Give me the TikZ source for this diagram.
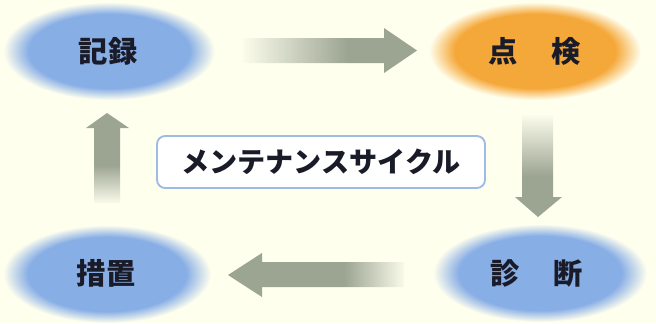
\documentclass[tikz,border=0pt]{standalone}
\usepackage{fontspec}
\newfontfamily\jp{Noto Sans CJK JP}
\definecolor{bg}{RGB}{255,255,238}
\definecolor{ellblue}{RGB}{136,174,230}
\definecolor{ellorange}{RGB}{245,168,58}
\definecolor{arrgray}{RGB}{156,165,146}
\definecolor{boxblue}{RGB}{160,186,230}
\definecolor{txt}{RGB}{25,28,40}
\pgfdeclareradialshading{blueell}{\pgfpoint{0bp}{0bp}}{color(0bp)=(ellblue); color(19bp)=(ellblue); color(25bp)=(bg); color(50bp)=(bg)}
\pgfdeclareradialshading{orangeell}{\pgfpoint{0bp}{0bp}}{color(0bp)=(ellorange); color(19bp)=(ellorange); color(25bp)=(bg); color(50bp)=(bg)}
\pgfdeclarehorizontalshading{fadeR}{100bp}{color(0bp)=(bg); color(24bp)=(bg); color(55bp)=(arrgray); color(100bp)=(arrgray)}
\pgfdeclarehorizontalshading{fadeL}{100bp}{color(0bp)=(arrgray); color(58bp)=(arrgray); color(76bp)=(bg); color(100bp)=(bg)}
\pgfdeclareverticalshading{fadeD}{100bp}{color(0bp)=(arrgray); color(45bp)=(arrgray); color(76bp)=(bg); color(100bp)=(bg)}
\pgfdeclareverticalshading{fadeU}{100bp}{color(0bp)=(bg); color(24bp)=(bg); color(46bp)=(arrgray); color(100bp)=(arrgray)}
\begin{document}
\begin{tikzpicture}[x=0.03cm,y=-0.03cm,
  lbl/.style={font=\jp\bfseries\fontsize{25}{30}\selectfont, text=txt, inner sep=0pt},
  cyclebox/.style={draw=boxblue, line width=1.6pt, fill=white, rounded corners=7pt,
    minimum width=9.84cm, minimum height=1.56cm, inner sep=0pt,
    font=\jp\bfseries\fontsize{24}{28}\selectfont, text=txt}]
\fill[bg] (0,0) rectangle (656,323);
\useasboundingbox (0,0) rectangle (656,323);
% ellipses
\shade[shading=blueell] (109,51) ellipse [x radius=106, y radius=49];
\shade[shading=orangeell] (535,51) ellipse [x radius=106, y radius=49];
\shade[shading=blueell] (540,273) ellipse [x radius=107, y radius=49];
\shade[shading=blueell] (107,274) ellipse [x radius=104, y radius=49];
% labels
\node[lbl] (rec) at (108,51) {記録};
\node[lbl] (insp) at (535,51) {点\hspace{1.15em}検};
\node[lbl] (diag) at (537,273) {診\hspace{1.15em}断};
\node[lbl] (meas) at (106,273) {措置};
% arrows
\shade[shading=fadeR] (243,38) -- (384,38) -- (384,28) -- (417,50.5) -- (384,73) -- (384,63) -- (243,63) -- cycle;
\shade[shading=fadeD] (522,115) -- (553,115) -- (553,197) -- (562,197) -- (538,217) -- (515,197) -- (522,197) -- cycle;
\shade[shading=fadeL] (404,262) -- (262,262) -- (262,253) -- (228,275) -- (262,297) -- (262,287) -- (404,287) -- cycle;
\shade[shading=fadeU] (94,203) -- (94,128) -- (86,128) -- (107,113) -- (129,128) -- (120,128) -- (120,203) -- cycle;
% centre box
\node[cyclebox] (cyc) at (321,162) {メンテナンスサイクル};
\end{tikzpicture}
\end{document}
